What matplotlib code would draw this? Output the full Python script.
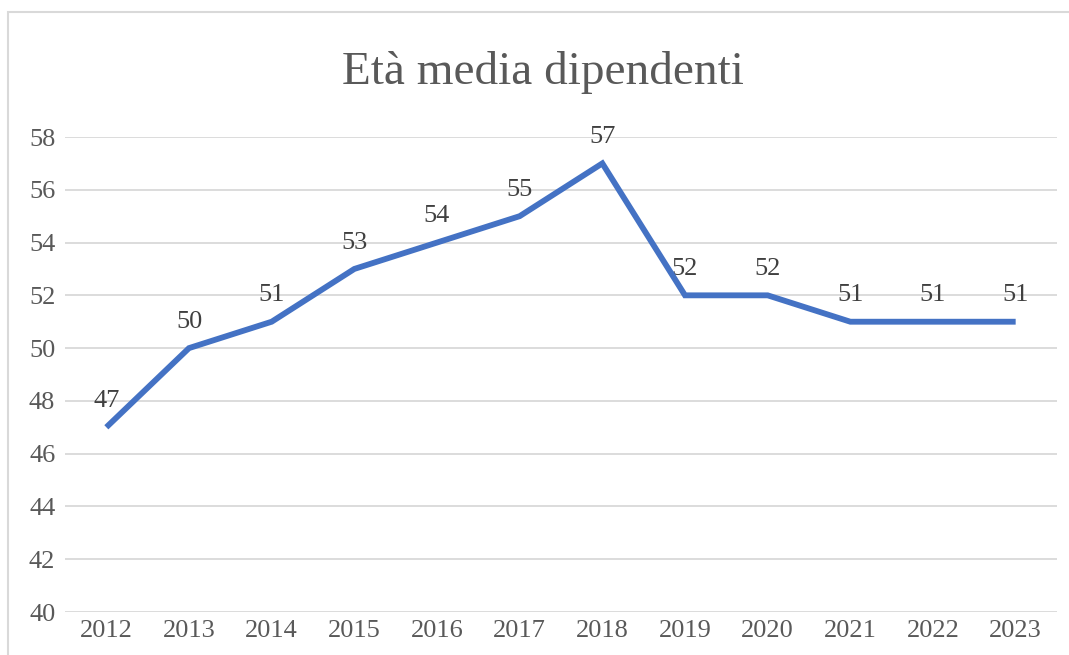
import matplotlib
matplotlib.use("Agg")
import matplotlib.pyplot as plt
from matplotlib.patches import Rectangle

# dati
anni = ["2012", "2013", "2014", "2015", "2016", "2017",
        "2018", "2019", "2020", "2021", "2022", "2023"]
eta_media = [47, 50, 51, 53, 54, 55, 57, 52, 52, 51, 51, 51]
y_ticks = [40, 42, 44, 46, 48, 50, 52, 54, 56, 58]

plt.rcParams["font.family"] = ["Liberation Serif", "DejaVu Serif"]

fig = plt.figure(figsize=(10.69, 6.55), dpi=100)
ax = fig.add_axes([65/1069, 1 - 612/655, (1057-65)/1069, (612-137)/655])

# bordo del grafico
fig.patches.append(Rectangle((8/1069, -0.1), 1.2, 1 - 12/655 + 0.1,
                             transform=fig.transFigure, fill=False,
                             edgecolor="#d9d9d9", linewidth=1.5))

x = range(len(anni))
ax.plot(x, eta_media, color="#4472C4", linewidth=4.2, zorder=3,
        solid_joinstyle="miter", solid_capstyle="butt")

for i, v in zip(x, eta_media):
    ax.annotate(str(v), (i, v), xytext=(0, 11), textcoords="offset points",
                ha="center", va="bottom", fontsize=19, color="#404040", zorder=2)

ax.set_xlim(-0.5, len(anni) - 0.5)
ax.set_ylim(40, 58)
ax.set_xticks(list(x))
ax.set_xticklabels(anni)
ax.set_yticks(y_ticks)
ax.tick_params(axis="both", length=0, labelsize=19, labelcolor="#595959")
ax.tick_params(axis="x", pad=6)
ax.tick_params(axis="y", pad=7)
ax.grid(axis="y", color="#d9d9d9", linewidth=1.3)
ax.set_axisbelow(True)
for s in ax.spines.values():
    s.set_visible(False)

fig.text(543/1069, 1 - 73/655, "Età media dipendenti", ha="center", va="center",
         fontsize=34, color="#595959")

fig.savefig("out.png", dpi=100)
